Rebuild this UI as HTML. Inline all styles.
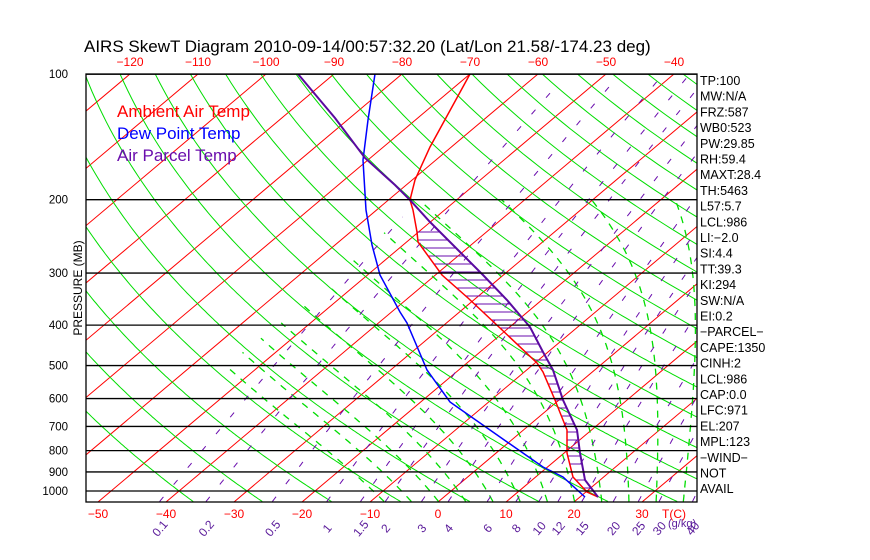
<!DOCTYPE html>
<html><head><meta charset="utf-8">
<style>
html,body{margin:0;padding:0;background:#fff;overflow:hidden;}
svg{display:block;font-family:"Liberation Sans",sans-serif;}
</style></head>
<body>
<svg id="s" width="870" height="560" xmlns="http://www.w3.org/2000/svg">
<defs><clipPath id="c"><rect x="86" y="74" width="611" height="428"/></clipPath></defs>
<rect width="870" height="560" fill="#fff"/>
<g id="g" clip-path="url(#c)"></g>
<g id="o"></g>
<text x="84" y="52" font-size="17" fill="#000">AIRS SkewT Diagram 2010-09-14/00:57:32.20 (Lat/Lon 21.58/-174.23 deg)</text>
<g font-size="17">
<text x="117" y="117" fill="#ff0000">Ambient Air Temp</text>
<text x="117" y="139" fill="#0000ff">Dew Point Temp</text>
<text x="117" y="161" fill="#6a0dad">Air Parcel Temp</text>
</g>
<text transform="translate(82,288) rotate(-90)" font-size="12" text-anchor="middle">PRESSURE (MB)</text>
</svg>
<script>
var NS="http://www.w3.org/2000/svg";
var g=document.getElementById('g'),o=document.getElementById('o');
function el(p,t,a,txt){var e=document.createElementNS(NS,t);for(var k in a)e.setAttribute(k,a[k]);if(txt!==undefined)e.textContent=txt;p.appendChild(e);return e;}
function Y(p){return 491+181*Math.log(p/1000);}
function X(T,y){return 438+6.8*T+(502-y)*1.187;}
function pl(pts,st,p){if(pts.length<2)return;el(p||g,'polyline',Object.assign({points:pts.map(function(q){return q[0].toFixed(1)+','+q[1].toFixed(1)}).join(' '),fill:'none'},st));}
var CUT=-55;
for(var T=-180;T<=50;T+=10){pl([[X(T,502),502],[X(T,74),74]],{stroke:'#ff0000','stroke-width':1});}
for(var th=-40;th<=240;th+=10){var a=[];for(var p=1060;p>=95;p-=5){var t=(th+273.15)*Math.pow(p/1000,0.286)-273.15;var y=Y(p);a.push([X(t,y),y]);}pl(a,{stroke:'#00dd00','stroke-width':1});}
function es(t){return 6.112*Math.exp(17.67*t/(t+243.5));}
for(var T0=-8;T0<=44;T0+=4){var t=T0,a=[];for(var p=1060;p>=200;p-=5){var y=Y(p);if(t>CUT)a.push([X(t,y),y]);var Tk=t+273.15,rs=0.622*es(t)/(p-es(t));var dT=(287*Tk+2.5e6*rs)/(1004+2.5e6*2.5e6*rs*0.622/(287*Tk*Tk))/p;t-=dT*5;}
pl(a,{stroke:'#00dd00','stroke-width':1.3,'stroke-dasharray':'7,7'});}
var ws=[0.1,0.2,0.5,1,1.5,2,3,4,6,8,10,12,15,20,25,30,40];
ws.forEach(function(w){var a=[];for(var p=1060;p>=100;p-=5){var e=w*p/(622+w);var L=Math.log(e/6.112);var t=243.5*L/(17.67-L);var y=Y(p);if(t>CUT)a.push([X(t,y),y]);}
pl(a,{stroke:'#6a0dad','stroke-width':1,'stroke-dasharray':'6,16'});
var e=w*1060/(622+w),L=Math.log(e/6.112),t=243.5*L/(17.67-L);var x=X(t,502);
el(o,'text',{x:0,y:0,transform:'translate('+(x+4)+',531) rotate(-50)','font-size':12,fill:'#5a1a9a','text-anchor':'middle'},String(w));});
[100,200,300,400,500,600,700,800,900,1000].forEach(function(p){var y=Y(p);el(o,'line',{x1:86,x2:697,y1:y,y2:y,stroke:'#000','stroke-width':1.3});el(o,'text',{x:68,y:y+4,'font-size':11.5,'text-anchor':'end'},String(p));});
el(o,'rect',{x:86,y:74,width:611,height:428,fill:'none',stroke:'#000','stroke-width':1.3});
for(var T=-50;T<=30;T+=10)el(o,'text',{x:X(T,502),y:518,'font-size':12,fill:'#ff0000','text-anchor':'middle'},String(T).replace('-','\u2212'));
el(o,'text',{x:662,y:518,'font-size':12,fill:'#ff0000'},'T(C)');
el(o,'text',{x:668,y:527,'font-size':11,fill:'#5a1a9a'},'(g/kg)');
for(var T=-120;T<=-40;T+=10)el(o,'text',{x:X(T,74),y:66,'font-size':12,fill:'#ff0000','text-anchor':'middle'},String(T).replace('-','\u2212'));
var red=[[470,74],[430,147],[415,180],[410,200],[413,210],[417,232],[418,242],[442,275],[468,298],[500,328],[537,363],[543,372],[555,400],[563,420],[567,430],[567,453],[573,477],[587,492],[598,497]];
var pur=[[298,74],[335,118],[365,158],[395,185],[410,200],[430,222],[460,252],[483,275],[507,300],[530,327],[543,352],[553,370],[563,400],[577,430],[580,453],[585,480],[598,497]];
var blu=[[375,74],[368,120],[363,160],[366,210],[372,245],[380,275],[400,312],[407,323],[427,370],[450,402],[500,437],[543,467],[563,477],[585,497]];
function interp(arr,y){for(var i=0;i<arr.length-1;i++){if(y>=arr[i][1]&&y<=arr[i+1][1]){var f=(y-arr[i][1])/(arr[i+1][1]-arr[i][1]);return arr[i][0]+f*(arr[i+1][0]-arr[i][0]);}}return null;}
for(var y=232;y<=494;y+=8){var a=interp(red,y),b=interp(pur,y);if(a&&b&&b>a)el(g,'line',{x1:a,x2:b,y1:y,y2:y,stroke:'#6a0dad','stroke-width':1});}
pl(blu,{stroke:'#0000ff','stroke-width':1.5});
pl(red,{stroke:'#ff0000','stroke-width':1.5});
pl(pur,{stroke:'#5a0aa0','stroke-width':2});
var R=["TP:100","MW:N/A","FRZ:587","WB0:523","PW:29.85","RH:59.4","MAXT:28.4","TH:5463","L57:5.7","LCL:986","LI:\u22122.0","SI:4.4","TT:39.3","KI:294","SW:N/A","EI:0.2","\u2212PARCEL\u2212","CAPE:1350","CINH:2","LCL:986","CAP:0.0","LFC:971","EL:207","MPL:123","\u2212WIND\u2212","NOT","AVAIL"];
R.forEach(function(s,i){el(o,'text',{x:700,y:85+i*15.7,'font-size':12.5,fill:'#000'},s);});
</script>
</body></html>
